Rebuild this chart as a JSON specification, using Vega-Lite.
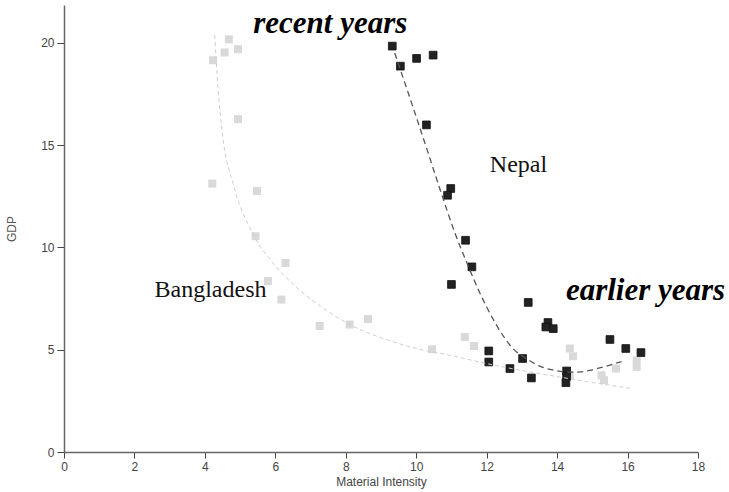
{
  "$schema": "https://vega.github.io/schema/vega-lite/v6.json",
  "width": 634,
  "height": 447,
  "autosize": {"type": "none"},
  "padding": {"left": 64, "top": 5, "right": 31, "bottom": 40},
  "background": "white",
  "config": {"view": {"stroke": null}},
  "datasets": {
    "points": [
      {"country": "Bangladesh", "mi": 4.23, "gdp": 19.15},
      {"country": "Bangladesh", "mi": 4.56, "gdp": 19.53},
      {"country": "Bangladesh", "mi": 4.68, "gdp": 20.17},
      {"country": "Bangladesh", "mi": 4.94, "gdp": 19.69},
      {"country": "Bangladesh", "mi": 4.94, "gdp": 16.27},
      {"country": "Bangladesh", "mi": 4.21, "gdp": 13.12},
      {"country": "Bangladesh", "mi": 5.48, "gdp": 12.76},
      {"country": "Bangladesh", "mi": 5.44, "gdp": 10.55},
      {"country": "Bangladesh", "mi": 6.29, "gdp": 9.24},
      {"country": "Bangladesh", "mi": 5.79, "gdp": 8.36},
      {"country": "Bangladesh", "mi": 6.17, "gdp": 7.45},
      {"country": "Bangladesh", "mi": 7.26, "gdp": 6.16},
      {"country": "Bangladesh", "mi": 8.11, "gdp": 6.23},
      {"country": "Bangladesh", "mi": 8.63, "gdp": 6.5},
      {"country": "Bangladesh", "mi": 10.45, "gdp": 5.02},
      {"country": "Bangladesh", "mi": 11.38, "gdp": 5.62},
      {"country": "Bangladesh", "mi": 11.64, "gdp": 5.18},
      {"country": "Bangladesh", "mi": 14.36, "gdp": 5.06},
      {"country": "Bangladesh", "mi": 14.45, "gdp": 4.68},
      {"country": "Bangladesh", "mi": 14.36, "gdp": 3.75},
      {"country": "Bangladesh", "mi": 15.26, "gdp": 3.75},
      {"country": "Bangladesh", "mi": 15.33, "gdp": 3.51},
      {"country": "Bangladesh", "mi": 15.67, "gdp": 4.08},
      {"country": "Bangladesh", "mi": 16.26, "gdp": 4.48},
      {"country": "Bangladesh", "mi": 16.26, "gdp": 4.16},
      {"country": "Nepal", "mi": 9.32, "gdp": 19.84},
      {"country": "Nepal", "mi": 9.55, "gdp": 18.86},
      {"country": "Nepal", "mi": 10.01, "gdp": 19.24},
      {"country": "Nepal", "mi": 10.48, "gdp": 19.4},
      {"country": "Nepal", "mi": 10.29, "gdp": 15.99},
      {"country": "Nepal", "mi": 10.98, "gdp": 12.88},
      {"country": "Nepal", "mi": 10.89, "gdp": 12.55},
      {"country": "Nepal", "mi": 11.4, "gdp": 10.35},
      {"country": "Nepal", "mi": 11.58, "gdp": 9.05},
      {"country": "Nepal", "mi": 11.0, "gdp": 8.19},
      {"country": "Nepal", "mi": 13.18, "gdp": 7.31},
      {"country": "Nepal", "mi": 13.74, "gdp": 6.33},
      {"country": "Nepal", "mi": 13.68, "gdp": 6.11},
      {"country": "Nepal", "mi": 13.89, "gdp": 6.03},
      {"country": "Nepal", "mi": 12.06, "gdp": 4.94},
      {"country": "Nepal", "mi": 12.06, "gdp": 4.4},
      {"country": "Nepal", "mi": 13.02, "gdp": 4.57},
      {"country": "Nepal", "mi": 12.66, "gdp": 4.08},
      {"country": "Nepal", "mi": 13.27, "gdp": 3.62},
      {"country": "Nepal", "mi": 14.27, "gdp": 3.96},
      {"country": "Nepal", "mi": 14.27, "gdp": 3.7},
      {"country": "Nepal", "mi": 14.25, "gdp": 3.39},
      {"country": "Nepal", "mi": 15.5, "gdp": 5.5},
      {"country": "Nepal", "mi": 15.95, "gdp": 5.06},
      {"country": "Nepal", "mi": 16.38, "gdp": 4.86}
    ],
    "curves": [
      {"country": "Bangladesh", "mi": 4.28, "gdp": 20.38},
      {"country": "Bangladesh", "mi": 4.37, "gdp": 17.85},
      {"country": "Bangladesh", "mi": 4.51, "gdp": 15.4},
      {"country": "Bangladesh", "mi": 4.8, "gdp": 13.12},
      {"country": "Bangladesh", "mi": 5.36, "gdp": 10.68},
      {"country": "Bangladesh", "mi": 6.03, "gdp": 9.05},
      {"country": "Bangladesh", "mi": 6.69, "gdp": 7.91},
      {"country": "Bangladesh", "mi": 7.45, "gdp": 6.93},
      {"country": "Bangladesh", "mi": 8.11, "gdp": 6.23},
      {"country": "Bangladesh", "mi": 9.06, "gdp": 5.55},
      {"country": "Bangladesh", "mi": 10.01, "gdp": 5.06},
      {"country": "Bangladesh", "mi": 10.95, "gdp": 4.73},
      {"country": "Bangladesh", "mi": 12.2, "gdp": 4.25},
      {"country": "Bangladesh", "mi": 13.51, "gdp": 3.83},
      {"country": "Bangladesh", "mi": 14.93, "gdp": 3.42},
      {"country": "Bangladesh", "mi": 16.11, "gdp": 3.1},
      {"country": "Nepal", "mi": 9.39, "gdp": 19.5},
      {"country": "Nepal", "mi": 9.9, "gdp": 16.9},
      {"country": "Nepal", "mi": 10.38, "gdp": 14.4},
      {"country": "Nepal", "mi": 10.76, "gdp": 12.4},
      {"country": "Nepal", "mi": 11.1, "gdp": 10.7},
      {"country": "Nepal", "mi": 11.45, "gdp": 9.2},
      {"country": "Nepal", "mi": 11.8, "gdp": 7.8},
      {"country": "Nepal", "mi": 12.18, "gdp": 6.5},
      {"country": "Nepal", "mi": 12.5, "gdp": 5.6},
      {"country": "Nepal", "mi": 12.75, "gdp": 5.05},
      {"country": "Nepal", "mi": 13.1, "gdp": 4.6},
      {"country": "Nepal", "mi": 13.5, "gdp": 4.2},
      {"country": "Nepal", "mi": 13.9, "gdp": 4.0},
      {"country": "Nepal", "mi": 14.3, "gdp": 3.9},
      {"country": "Nepal", "mi": 14.7, "gdp": 3.92},
      {"country": "Nepal", "mi": 15.0, "gdp": 4.02},
      {"country": "Nepal", "mi": 15.4, "gdp": 4.2},
      {"country": "Nepal", "mi": 15.83, "gdp": 4.42}
    ],
    "labels": [
      {"label": "Bangladesh", "mi": 2.57, "gdp": 7.58},
      {"label": "Nepal", "mi": 12.09, "gdp": 13.69}
    ],
    "notes": [
      {"label": "recent years", "mi": 7.56, "gdp": 20.47},
      {"label": "earlier years", "mi": 16.51, "gdp": 7.42}
    ],
    "xticks": [
      {"mi": 0}, {"mi": 2}, {"mi": 4}, {"mi": 6}, {"mi": 8}, {"mi": 10},
      {"mi": 12}, {"mi": 14}, {"mi": 16}, {"mi": 18}
    ],
    "yticks": [
      {"gdp": 0}, {"gdp": 5}, {"gdp": 10}, {"gdp": 15}, {"gdp": 20}
    ]
  },
  "encoding": {
    "x": {
      "field": "mi", "type": "quantitative",
      "scale": {"domain": [0, 18], "nice": false, "zero": false},
      "axis": {
        "title": "Material Intensity", "values": [0, 2, 4, 6, 8, 10, 12, 14, 16, 18],
        "grid": false, "labelFlush": false, "domainColor": "#666", "domainWidth": 1.5, "tickColor": "#444", "tickSize": 6, "tickWidth": 1,
        "labelFont": "Liberation Sans", "labelFontSize": 12, "labelColor": "#444", "labelPadding": 3,
        "titleFont": "Liberation Sans", "titleFontSize": 12, "titleFontWeight": "normal", "titleColor": "#444", "titlePadding": 4
      }
    },
    "y": {
      "field": "gdp", "type": "quantitative",
      "scale": {"domain": [0, 21.85], "nice": false, "zero": false},
      "axis": {
        "title": "GDP", "values": [0, 5, 10, 15, 20],
        "grid": false, "labelFlush": false, "domainColor": "#666", "domainWidth": 1.5, "tickColor": "#444", "tickSize": 7, "tickWidth": 1,
        "labelFont": "Liberation Sans", "labelFontSize": 12, "labelColor": "#444", "labelPadding": 3,
        "titleFont": "Liberation Sans", "titleFontSize": 12, "titleFontWeight": "normal", "titleColor": "#555", "titlePadding": 22
      }
    }
  },
  "layer": [
    {
      "data": {"name": "xticks"},
      "mark": {"type": "tick", "orient": "vertical", "size": 12, "thickness": 1, "color": "#444", "opacity": 1},
      "encoding": {"y": {"datum": 0, "type": "quantitative"}}
    },
    {
      "data": {"name": "yticks"},
      "mark": {"type": "tick", "orient": "horizontal", "size": 14, "thickness": 1, "color": "#444", "opacity": 1},
      "encoding": {"x": {"datum": 0, "type": "quantitative"}}
    },
    {
      "data": {"name": "points"},
      "transform": [{"filter": "datum.country === 'Bangladesh'"}],
      "mark": {"type": "point", "shape": "square", "filled": true, "size": 64, "color": "#d9d9d9", "opacity": 1}
    },
    {
      "data": {"name": "points"},
      "transform": [{"filter": "datum.country === 'Nepal'"}],
      "mark": {"type": "point", "shape": "square", "filled": true, "size": 60, "color": "#222222", "stroke": "#111111", "strokeWidth": 0.8, "opacity": 1}
    },
    {
      "data": {"name": "curves"},
      "transform": [{"filter": "datum.country === 'Bangladesh'"}],
      "mark": {"type": "line", "interpolate": "monotone", "color": "#cfcfcf", "strokeWidth": 1, "strokeDash": [4, 3]}
    },
    {
      "data": {"name": "curves"},
      "transform": [{"filter": "datum.country === 'Nepal'"}],
      "mark": {"type": "line", "interpolate": "monotone", "color": "#555555", "strokeWidth": 1.3, "strokeDash": [6, 4]}
    },
    {
      "data": {"name": "labels"},
      "mark": {"type": "text", "font": "Liberation Serif", "fontSize": 24, "align": "left", "baseline": "alphabetic", "color": "#111"},
      "encoding": {"text": {"field": "label"}}
    },
    {
      "data": {"name": "notes"},
      "mark": {"type": "text", "font": "Liberation Serif", "fontSize": 31, "fontStyle": "italic", "fontWeight": "bold", "align": "center", "baseline": "alphabetic", "color": "#000"},
      "encoding": {"text": {"field": "label"}}
    }
  ]
}
